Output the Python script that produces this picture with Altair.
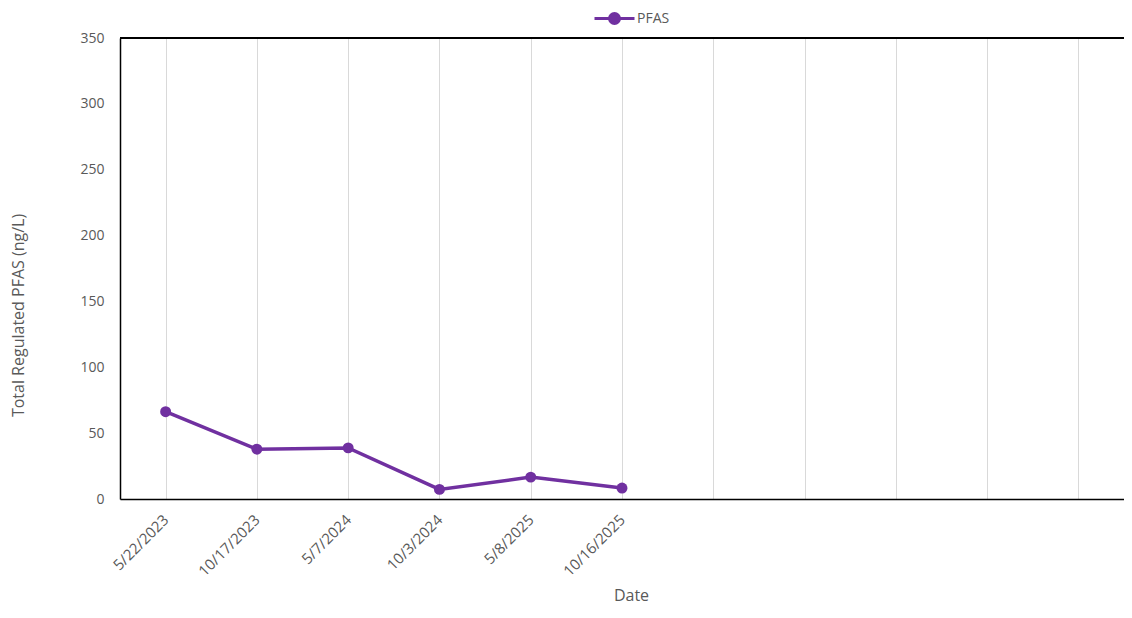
import altair as alt
import pandas as pd

dates = ["5/22/2023", "10/17/2023", "5/7/2024", "10/3/2024", "5/8/2025", "10/16/2025"]
values = [66.3, 37.8, 38.8, 7.3, 16.6, 8.3]
blank_slots = ["_1", "_2", "_3", "_4", "_5"]
series_name = "PFAS"
y_ticks = [0, 50, 100, 150, 200, 250, 300, 350]
y_max = 350

df = pd.DataFrame({"Date": dates, "Value": values, "Series": [series_name] * len(dates)})
domain = dates + blank_slots

purple = "#7030A0"
font = "Open Sans"
txt = "#595959"

x_enc = alt.X(
    "Date:O",
    scale=alt.Scale(domain=domain, paddingInner=0, paddingOuter=0),
    sort=domain,
    axis=alt.Axis(
        title="Date",
        labelExpr="indexof(datum.label, '_') == 0 ? '' : datum.label",
        labelAngle=-45,
        labelAlign="right",
        labelBaseline="middle",
        labelPadding=18,
        ticks=False,
        grid=True,
        bandPosition=0,
        gridColor="#d9d9d9",
        gridWidth=1,
        domainColor="#000000",
        domainWidth=1.5,
        labelFontSize=15,
        labelColor=txt,
        labelFont=font,
        titleFont=font,
        titleFontSize=16,
        titleFontWeight="normal",
        titleColor=txt,
        titleBaseline="middle",
        titleX=511,
        titleY=96,
    ),
)

y_enc = alt.Y(
    "Value:Q",
    scale=alt.Scale(domain=[0, y_max], nice=False),
    axis=alt.Axis(
        title="Total Regulated PFAS (ng/L)",
        values=y_ticks,
        ticks=False,
        labelPadding=16,
        gridColor="#d9d9d9",
        gridWidth=1,
        domainColor="#000000",
        domainWidth=1.5,
        labelFontSize=14,
        labelColor=txt,
        labelFont=font,
        titleFont=font,
        titleFontSize=16,
        titleFontWeight="normal",
        titleColor=txt,
        titleBaseline="middle",
        titleX=-102,
        titleY=277,
    ),
)

color_enc = alt.Color(
    "Series:N",
    scale=alt.Scale(domain=[series_name], range=[purple]),
    legend=alt.Legend(
        title=None,
        orient="none",
        legendX=473,
        legendY=-41,
        symbolType="M-1,0L1,0M-0.25,0A0.25,0.25 0 1,1 0.25,0A0.25,0.25 0 1,1 -0.25,0",
        symbolSize=1600,
        symbolStrokeWidth=3,
        symbolFillColor=purple,
        symbolStrokeColor=purple,
        labelFont=font,
        labelFontSize=14,
        labelColor=txt,
        labelOffset=1,
    ),
)

line = alt.Chart(df).mark_line(strokeWidth=3.5, color=purple).encode(
    x=x_enc, y=y_enc, color=color_enc
)
points = alt.Chart(df).mark_point(filled=True, size=120, opacity=1, color=purple).encode(
    x=x_enc, y=y_enc, color=color_enc
)
top_border = alt.Chart(df).mark_rule(color="#000000", strokeWidth=1.5).encode(
    y=alt.datum(y_max)
)

chart = (
    alt.layer(top_border, line, points)
    .properties(
        width=1004,
        height=461,
        autosize=alt.AutoSizeParams(type="none"),
        padding={"left": 112, "top": 30, "right": 0, "bottom": 110},
    )
    .configure_view(stroke=None)
    .configure(background="#ffffff")
)

chart.save("out.html", embed_options={"renderer": "svg", "actions": False})
